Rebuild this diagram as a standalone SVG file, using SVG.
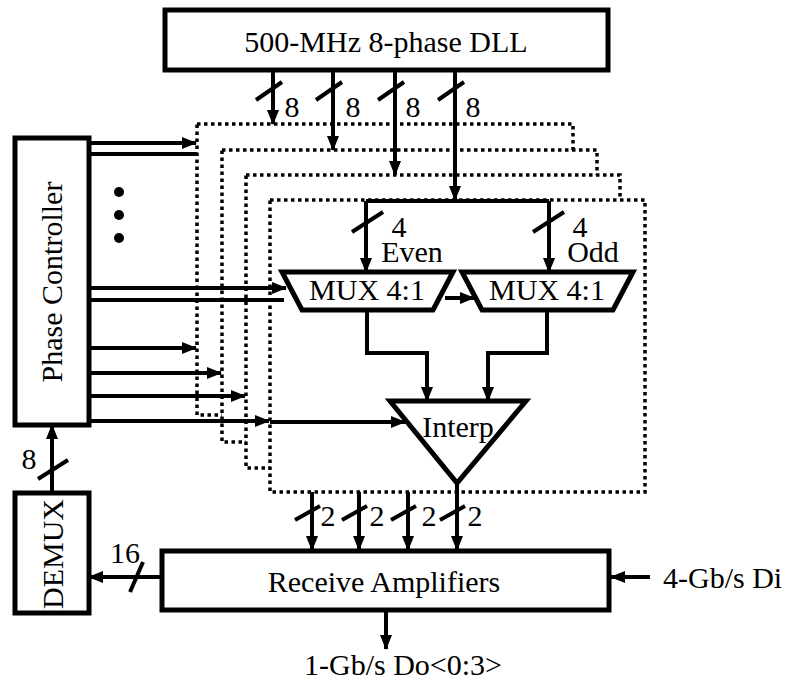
<svg xmlns="http://www.w3.org/2000/svg" width="786" height="682" viewBox="0 0 786 682">
<defs>
<marker id="ah" markerUnits="userSpaceOnUse" markerWidth="15" markerHeight="12" refX="14" refY="6" orient="auto"><path d="M0,0 L15,6 L0,12 z" fill="#000"/></marker>
<style>
text{font-family:"Liberation Serif","Times New Roman",serif;font-size:30px;fill:#000}
.m{text-anchor:middle}
.box{fill:#fff;stroke:#000;stroke-width:5}
.dot{fill:#fff;stroke:#000;stroke-width:3.5;stroke-dasharray:3.5 3.5}
.w{fill:none;stroke:#000;stroke-width:4}
.a{fill:none;stroke:#000;stroke-width:4;marker-end:url(#ah)}
.s{stroke:#000;stroke-width:4}
</style>
</defs>
<rect width="786" height="682" fill="#fff"/>
<g id="slices">
<rect class="dot" x="197" y="124" width="376" height="291"/>
<rect class="dot" x="222" y="150" width="375" height="292"/>
<rect class="dot" x="246" y="175" width="374" height="293"/>
<rect class="dot" x="270" y="200" width="375" height="292"/>
</g>
<g id="dll"><rect class="box" x="165" y="10" width="443" height="60"/><text class="m" x="386" y="52">500-MHz 8-phase DLL</text></g>
<g id="phase-controller"><rect class="box" x="15" y="138" width="74" height="287"/><text class="m" transform="translate(62,282) rotate(-90)">Phase Controller</text></g>
<g id="ellipsis"><circle cx="119" cy="192" r="5"/><circle cx="119" cy="215" r="5"/><circle cx="119" cy="238" r="5"/></g>
<g id="mux-even"><path class="box" d="M282,272 H453 L433,310 H302 Z"/><text class="m" x="367" y="300">MUX 4:1</text></g>
<g id="mux-odd"><path class="box" d="M462,272 H633 L613,310 H482 Z"/><text class="m" x="547" y="300">MUX 4:1</text></g>
<g id="interp"><path class="box" d="M390,401 H526 L457,483 Z"/><text class="m" x="458" y="437">Interp</text></g>
<g id="receive-amplifiers"><rect class="box" x="162" y="551" width="447" height="59"/><text class="m" x="384" y="592">Receive Amplifiers</text></g>
<g id="demux"><rect class="box" x="15" y="493" width="74" height="120"/><text class="m" transform="translate(63,554) rotate(-90)">DEMUX</text></g>
<g id="connectors">
<path class="a" d="M273,70 V124"/>
<path class="a" d="M333,70 V150"/>
<path class="a" d="M395,70 V175"/>
<path class="a" d="M455,70 V200"/>
<path class="s" d="M256,100 L282,82 M316,100 L342,82 M378,100 L404,82 M438,100 L464,82"/>
<text class="m" x="292" y="117">8</text><text class="m" x="353" y="117">8</text><text class="m" x="413" y="117">8</text><text class="m" x="473" y="117">8</text>
<path class="a" d="M89,143 H196"/>
<path class="w" d="M89,154 H197"/>
<path class="a" d="M89,288 H286"/>
<path class="w" d="M89,300 H284"/>
<path class="a" d="M89,348 H196"/>
<path class="a" d="M89,373 H221"/>
<path class="a" d="M89,396 H245"/>
<path class="a" d="M89,421 H269"/>
<path class="a" d="M270,422 H405"/>
<path class="w" d="M366,201 H549"/>
<path class="a" d="M366,201 V272"/>
<path class="a" d="M549,201 V272"/>
<path class="s" d="M352,232 L383,212 M533,232 L564,212"/>
<text class="m"><tspan x="399" y="237">4</tspan><tspan x="412" y="262">Even</tspan></text>
<text class="m"><tspan x="580" y="237">4</tspan><tspan x="593" y="262">Odd</tspan></text>
<path class="a" d="M445,298 H474"/>
<path class="a" d="M367,310 V353 H427 V401"/>
<path class="a" d="M547,310 V353 H488 V401"/>
<path class="a" d="M312,492 V550"/>
<path class="a" d="M359,492 V550"/>
<path class="a" d="M408,492 V550"/>
<path class="a" d="M457,483 V550"/>
<path class="s" d="M295,520 L320,506 M342,520 L367,506 M391,520 L416,506 M440,520 L465,506"/>
<text class="m" x="328" y="526">2</text><text class="m" x="377" y="526">2</text><text class="m" x="429" y="526">2</text><text class="m" x="475" y="526">2</text>
<path class="a" d="M650,577 H611"/>
<text x="663" y="588">4-Gb/s Di</text>
<path class="a" d="M386,610 V649"/>
<text class="m" x="403" y="675">1-Gb/s Do&lt;0:3&gt;</text>
<path class="a" d="M162,577 H89"/>
<path class="s" d="M130,592 L143,562"/>
<text class="m" x="125" y="563">16</text>
<path class="a" d="M52,493 V425"/>
<path class="s" d="M38,479 L68,460"/>
<text class="m" x="29" y="469">8</text>
</g>
</svg>
